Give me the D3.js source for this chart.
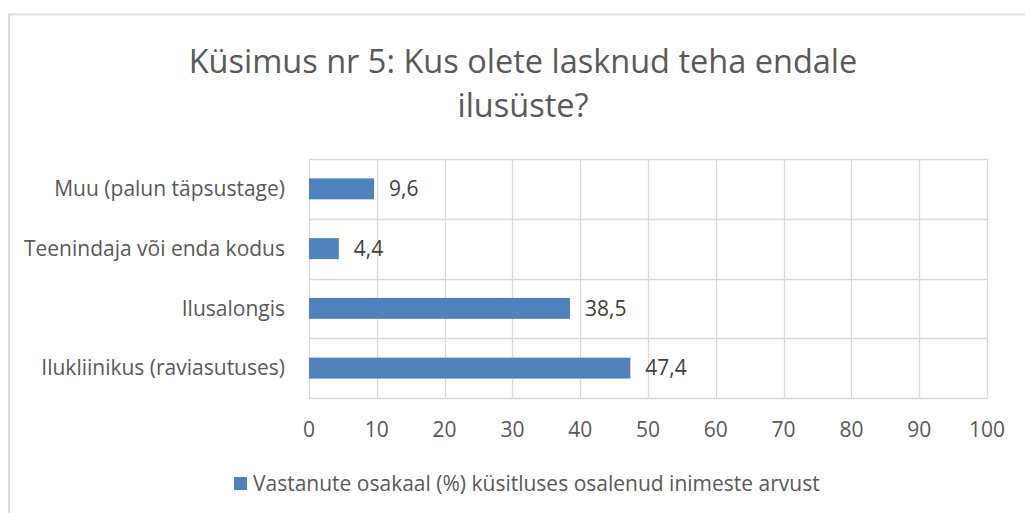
<!DOCTYPE html>
<html>
<head>
<meta charset="utf-8">
<script src="https://cdnjs.cloudflare.com/ajax/libs/d3/7.8.5/d3.min.js"></script>
<style>
  body { margin: 0; background: #fff; overflow: hidden; }
  text { font-family: "Open Sans", sans-serif; fill: #595959; }
</style>
</head>
<body>
<div id="chart"></div>
<script>
const w = 1025;
const h = 513;

// data (top to bottom)
const categories = ["Muu (palun täpsustage)", "Teenindaja või enda kodus", "Ilusalongis", "Ilukliinikus (raviasutuses)"];
const values = [9.6, 4.4, 38.5, 47.4];
const xTicks = [0, 10, 20, 30, 40, 50, 60, 70, 80, 90, 100];
const titleLines = ["Küsimus nr 5: Kus olete lasknud teha endale", "ilusüste?"];
const seriesName = "Vastanute osakaal (%) küsitluses osalenud inimeste arvust";

const margin = { top: 159, right: 38, bottom: 115, left: 309 };
const width = w - margin.left - margin.right;
const height = h - margin.top - margin.bottom;

const svg = d3.select("#chart")
    .append("svg")
    .attr("width", w)
    .attr("height", h)
    .style("display", "block");

// outer chart border (right and bottom edges fall outside the picture)
svg.append("rect")
    .attr("x", 9).attr("y", 14.5)
    .attr("width", w).attr("height", h)
    .attr("fill", "none")
    .attr("stroke", "#d9d9d9")
    .attr("stroke-width", 1.8);

svg.selectAll(".title")
    .data(titleLines)
    .enter()
    .append("text")
    .attr("class", "title")
    .attr("x", 523)
    .attr("y", function(d, i) { return 73 + i * 44; })
    .attr("text-anchor", "middle")
    .style("font-size", "32.5px")
    .text(function(d) { return d; });

const g = svg.append("g")
    .attr("transform", "translate(" + margin.left + "," + margin.top + ")");

const x = d3.scaleLinear().domain([0, 100]).range([0, width]);
const y = d3.scaleBand().domain(categories).range([0, height]).paddingInner(0.65).paddingOuter(0.325);

// gridlines
g.selectAll(".vgrid")
    .data(xTicks)
    .enter()
    .append("line")
    .attr("x1", function(d) { return Math.round(x(d)) + 0.5; })
    .attr("x2", function(d) { return Math.round(x(d)) + 0.5; })
    .attr("y1", 0).attr("y2", height)
    .attr("stroke", "#d9d9d9")
    .attr("stroke-width", 1.3);

const hLines = d3.range(categories.length + 1);
g.selectAll(".hgrid")
    .data(hLines)
    .enter()
    .append("line")
    .attr("x1", 0).attr("x2", width)
    .attr("y1", function(d) { return Math.round(d * height / categories.length) + 0.5; })
    .attr("y2", function(d) { return Math.round(d * height / categories.length) + 0.5; })
    .attr("stroke", "#d9d9d9")
    .attr("stroke-width", 1.3);

// bars
g.selectAll(".bar")
    .data(values)
    .enter()
    .append("rect")
    .attr("class", "bar")
    .attr("x", 0)
    .attr("y", function(d, i) { return y(categories[i]); })
    .attr("width", function(d) { return x(d); })
    .attr("height", y.bandwidth())
    .attr("fill", "#4f81bd");

// value labels
g.selectAll(".val")
    .data(values)
    .enter()
    .append("text")
    .attr("x", function(d) { return x(d) + 15; })
    .attr("y", function(d, i) { return y(categories[i]) + y.bandwidth() / 2; })
    .attr("dy", "0.35em")
    .style("font-size", "21px")
    .style("fill", "#404040")
    .text(function(d) { return String(d).replace(".", ","); });

// category labels
g.selectAll(".cat")
    .data(categories)
    .enter()
    .append("text")
    .attr("x", -24)
    .attr("y", function(d) { return y(d) + y.bandwidth() / 2; })
    .attr("dy", "0.35em")
    .attr("text-anchor", "end")
    .style("font-size", "21px")
    .text(function(d) { return d; });

// x axis tick labels
g.selectAll(".tick-label")
    .data(xTicks)
    .enter()
    .append("text")
    .attr("x", function(d) { return x(d); })
    .attr("y", height + 32)
    .attr("dy", "0.35em")
    .attr("text-anchor", "middle")
    .style("font-size", "21px")
    .text(function(d) { return d; });

// legend
const legend = svg.append("g").attr("transform", "translate(234,477)");
legend.append("rect")
    .attr("width", 13).attr("height", 13)
    .attr("fill", "#4f81bd");
legend.append("text")
    .attr("x", 19).attr("y", 7)
    .attr("dy", "0.35em")
    .style("font-size", "21px")
    .text(seriesName);
</script>
</body>
</html>
